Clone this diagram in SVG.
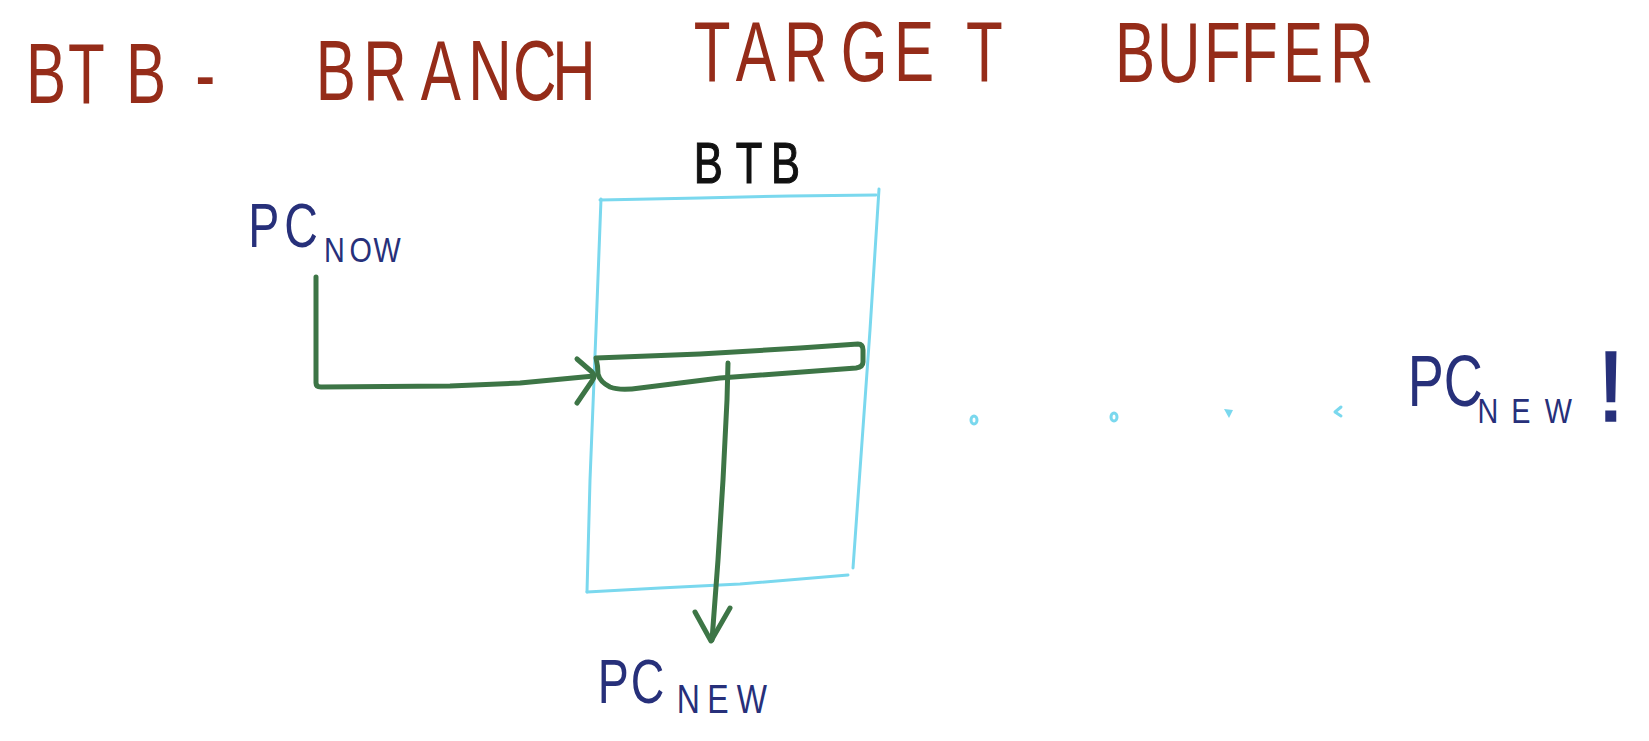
<svg xmlns="http://www.w3.org/2000/svg" width="1649" height="741" viewBox="0 0 1649 741">
<style>
.title{font-family:"Liberation Sans","DejaVu Sans",sans-serif;font-size:86px;fill:#952c19}
.lbl{font-family:"Liberation Sans","DejaVu Sans",sans-serif;fill:#27307a}
.blk{font-family:"Liberation Sans","DejaVu Sans",sans-serif;fill:#111;stroke:#111;stroke-width:1.2}
.g{fill:none;stroke:#3d7546;stroke-width:5;stroke-linecap:round;stroke-linejoin:round}
.c{fill:none;stroke:#7ad8ee;stroke-width:3;stroke-linecap:round;stroke-linejoin:round}
</style>
<rect width="1649" height="741" fill="#ffffff"/>
<g id="title" transform="scale(0.7 1)">
<text class="title" x="37 97 180 279" y="103">BTB-</text>
<text class="title" x="451 519 601 669 733 789" y="100">BRANCH</text>
<text class="title" x="991 1051 1120 1201 1277 1380" y="81">TARGET</text>
<text class="title" x="1593 1653 1720 1773 1833 1900" y="82">BUFFER</text>
</g>
<g id="btb">
<g transform="scale(0.75 1)"><text class="blk" font-size="58" x="925 981 1028" y="183">BTB</text></g>
<path class="c" d="M600,200 L700,198 L790,196 L876,195"/>
<path class="c" d="M879,189 L870,330 L860,470 L853,568"/>
<path class="c" d="M587,592 L660,588 L740,584 L848,575"/>
<path class="c" d="M601,199 L596,330 L590,480 L587,592"/>
</g>
<g id="btb-entry">
<path class="g" d="M596,358 L700,354 L800,348 L858,344 Q863,344 863,350 L863,362 Q863,367 856,368 L720,378 L640,388 Q620,391 610,387 Q600,382 598,374 Q598,366 596,358 Z"/>
</g>
<g id="pc-now">
<g transform="scale(0.75 1)"><text class="lbl" font-size="62" x="331 379" y="247">PC</text></g>
<g transform="scale(0.8 1)"><text class="lbl" font-size="36" x="405 437 467" y="262">NOW</text></g>
</g>
<g id="pc-new">
<g transform="scale(0.75 1)"><text class="lbl" font-size="62" x="797 841" y="703">PC</text></g>
<g transform="scale(0.8 1)"><text class="lbl" font-size="40" x="846 884 921" y="713">NEW</text></g>
</g>
<g id="dots">
<ellipse class="c" cx="974" cy="420" rx="3" ry="4"/>
<ellipse class="c" cx="1114" cy="417" rx="3" ry="4"/>
<path d="M1224,409 L1233,410 L1229,418 Z" fill="#7ad8ee"/>
<path class="c" d="M1341,407 L1335,412 L1341,416"/>
</g>
<g id="pc-new-right">
<g transform="scale(0.75 1)"><text class="lbl" font-size="72" x="1877 1925" y="406">PC</text></g>
<g transform="scale(0.8 1)"><text class="lbl" font-size="36" x="1847 1889 1931" y="423">NEW</text></g>
<text class="lbl" font-size="100" x="1597" y="421" stroke="#27307a" stroke-width="1.5">!</text>
</g>
<g id="connectors">
<path class="g" d="M316,277 L316,383 Q316,387 321,387 L450,386 L520,383 L594,376"/>
<path class="g" d="M577,359 L592,372 Q596,376 592,381 L577,403"/>
<path class="g" d="M728,363 L727,400 L723,480 L718,560 L712,640"/>
<path class="g" d="M695,612 L711,641 L730,608"/>
</g>
</svg>
